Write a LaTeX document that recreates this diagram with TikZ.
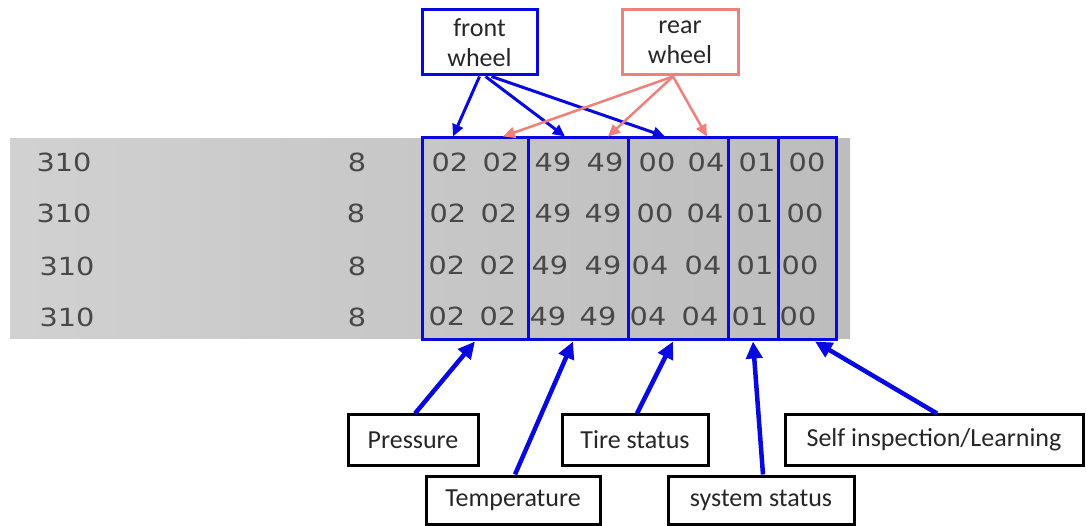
\documentclass[tikz,border=0pt]{standalone}
\usepackage{fontspec}
\usepackage{graphicx}
\setmainfont{Carlito}
\newfontfamily\screenfont{DejaVu Sans}
\usetikzlibrary{arrows.meta}
\definecolor{fieldblue}{RGB}{8,8,225}
\definecolor{rearred}{RGB}{240,128,122}
\definecolor{screengray}{RGB}{72,72,72}
\newcommand{\wide}[1]{\scalebox{1.15}[1]{#1}}
\tikzset{
  tagbox/.style={draw=black, line width=3pt, inner sep=0pt, text=black!85,
    font=\fontsize{26}{30}\selectfont},
  wheelbox/.style={tagbox, align=center, minimum width=115pt, minimum height=65pt},
  fieldbox/.style={draw=fieldblue, line width=3pt, inner sep=0pt, minimum height=202pt},
  hexval/.style={inner sep=0pt, text=screengray, font=\screenfont\fontsize{25}{25}\selectfont},
}

\begin{document}
\begin{tikzpicture}[x=1pt, y=-1pt]
  \useasboundingbox (0,0) rectangle (1087,526);
  % screen photo
  \shade[left color=gray!36, right color=gray!52] (10,139) rectangle (850,339);
  \begin{scope}[every node/.style=hexval]
    \path
      (64,162) node (id1){\wide{310}}
      (64,213) node (id2){\wide{310}}
      (67,266) node (id3){\wide{310}}
      (67,317) node (id4){\wide{310}}
      (357,162) node (len1){\wide{8}}
      (356,213) node (len2){\wide{8}}
      (357,266) node (len3){\wide{8}}
      (357,317) node (len4){\wide{8}};
    \path
      (450,162) node (p1a){\wide{02}}
      (501,162) node (p1b){\wide{02}}
      (553,162) node (t1a){\wide{49}}
      (605,162) node (t1b){\wide{49}}
      (657,162) node (s1a){\wide{00}}
      (706,162) node (s1b){\wide{04}}
      (757,162) node (y1){\wide{01}}
      (807,162) node (l1){\wide{00}};
    \path
      (448,213) node (p2a){\wide{02}}
      (499,213) node (p2b){\wide{02}}
      (553,213) node (t2a){\wide{49}}
      (603,213) node (t2b){\wide{49}}
      (655,213) node (s2a){\wide{00}}
      (705,213) node (s2b){\wide{04}}
      (755,213) node (y2){\wide{01}}
      (805,213) node (l2){\wide{00}};
    \path
      (447,265) node (p3a){\wide{02}}
      (498,265) node (p3b){\wide{02}}
      (550,265) node (t3a){\wide{49}}
      (603,265) node (t3b){\wide{49}}
      (650,265) node (s3a){\wide{04}}
      (703,265) node (s3b){\wide{04}}
      (755,265) node (y3){\wide{01}}
      (800,265) node (l3){\wide{00}};
    \path
      (447,316) node (p4a){\wide{02}}
      (498,316) node (p4b){\wide{02}}
      (548,316) node (t4a){\wide{49}}
      (598,316) node (t4b){\wide{49}}
      (648,316) node (s4a){\wide{04}}
      (700,316) node (s4b){\wide{04}}
      (750,316) node (y4){\wide{01}}
      (798,316) node (l4){\wide{00}};
  \end{scope}
  % byte fields
  \path
    (475,239) node[fieldbox, minimum width=106pt] (colP){}
    (578,239) node[fieldbox, minimum width=100pt] (colT){}
    (678,239) node[fieldbox, minimum width=100pt] (colS){}
    (753,239) node[fieldbox, minimum width=50pt] (colY){}
    (807,239) node[fieldbox, minimum width=58pt] (colL){};
  % wheels
  \path
    (479.5,42.5) node[wheelbox, draw=fieldblue] (front){front\\wheel}
    (680,42.5) node[wheelbox, draw=rearred, minimum width=116pt] (rear){rear\\wheel};
  % field names
  \path
    (413,440) node[tagbox, minimum width=130pt, minimum height=50pt] (pressure){Pressure}
    (513,500) node[tagbox, minimum width=174pt, minimum height=48pt] (temperature){Temperature}
    (635,440) node[tagbox, minimum width=146pt, minimum height=50pt] (tire){Tire status}
    (761,500) node[tagbox, minimum width=186pt, minimum height=48pt] (system){system status}
    (934,440) node[tagbox, minimum width=298pt, minimum height=50pt] (self){Self inspection/Learning};
  \begin{scope}[fieldblue, line width=3pt, -{Triangle[length=12pt,width=11pt]}]
    \draw (front.south) to ([xshift=-22pt]colP.north);
    \draw ([xshift=6pt]front.south) to ([xshift=-13pt]colT.north);
    \draw ([xshift=12pt]front.south) to ([xshift=-13pt]colS.north);
  \end{scope}
  \begin{scope}[rearred, line width=2.5pt, -{Triangle[length=12pt,width=11pt]}]
    \draw ([xshift=-7pt]rear.south) to ([xshift=28pt]colP.north);
    \draw ([xshift=-7pt]rear.south) to ([xshift=30pt]colT.north);
    \draw ([xshift=-7pt]rear.south) to ([xshift=29pt]colS.north);
  \end{scope}
  \begin{scope}[fieldblue, line width=4.5pt, -{Triangle[length=17pt,width=16pt]}]
    \draw ([xshift=2pt]pressure.north) to (colP.south);
    \draw ([xshift=2pt]temperature.north) to ([xshift=-5pt]colT.south);
    \draw ([xshift=2pt]tire.north) to ([xshift=-5pt]colS.south);
    \draw ([xshift=2pt]system.north) to (colY.south);
    \draw ([xshift=3pt]self.north) to ([xshift=8pt]colL.south);
  \end{scope}
\end{tikzpicture}
\end{document}
